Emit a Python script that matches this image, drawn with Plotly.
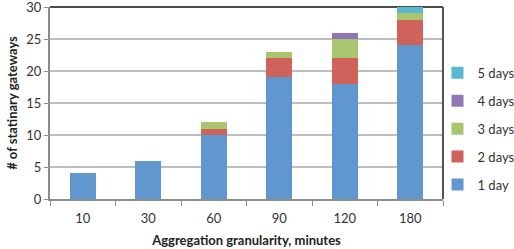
import plotly.graph_objects as go

categories = ["10", "30", "60", "90", "120", "180"]
series_names = ["1 day", "2 days", "3 days", "4 days", "5 days"]
day1 = [4, 6, 10, 19, 18, 24]
day2 = [0, 0, 1, 3, 4, 4]
day3 = [0, 0, 1, 1, 3, 1]
day4 = [0, 0, 0, 0, 1, 0]
day5 = [0, 0, 0, 0, 0, 1]
series_values = [day1, day2, day3, day4, day5]
colors = ["#6097CE", "#D0625C", "#A9C56E", "#8E77B3", "#59B9D1"]

FONT = "Lato, 'Open Sans', sans-serif"

fig = go.Figure()
for i, (name, vals, col) in enumerate(zip(series_names, series_values, colors)):
    fig.add_trace(go.Bar(
        x=categories, y=vals, name=name,
        marker=dict(color=col, line=dict(width=0)),
        legendgroup=name,
        legendrank=len(series_names) - i,
    ))

fig.update_layout(
    barmode="stack",
    bargap=0.6,
    width=514, height=249,
    margin=dict(l=50, r=71, t=7, b=50, autoexpand=False),
    paper_bgcolor="white", plot_bgcolor="white",
    font=dict(family=FONT, size=13, color="#333333"),
    showlegend=True,
    legend=dict(
        traceorder="grouped",
        x=0.986, xanchor="left", y=0.365, yanchor="middle",
        font=dict(size=13, color="#333333", family=FONT),
        tracegroupgap=8,
        itemwidth=30,
        bgcolor="rgba(0,0,0,0)",
    ),
    xaxis=dict(
        type="category",
        showline=True, linecolor="#8C8C8C", linewidth=2,
        ticks="outside", tickson="boundaries", ticklen=5, tickcolor="#8C8C8C",
        showgrid=False, automargin=False, ticklabelstandoff=6,
        tickfont=dict(size=13, color="#333333"),
        title=dict(text="<b>Aggregation granularity, minutes</b>", font=dict(size=13, color="#222222"), standoff=11),
    ),
    yaxis=dict(
        range=[0, 30], dtick=5,
        showline=True, linecolor="#8C8C8C", linewidth=2,
        ticks="outside", ticklen=4, tickcolor="#8C8C8C",
        showgrid=True, gridcolor="#BDBDBD", gridwidth=1.5,
        zeroline=False, automargin=False, ticklabeloverflow="allow",
        tickfont=dict(size=13, color="#333333"),
        title=dict(text="<b># of statinary gateways</b>", font=dict(size=13, color="#222222"), standoff=6),
    ),
    shapes=[
        dict(type="line", xref="paper", yref="paper", x0=0, x1=1, y0=1, y1=1,
             line=dict(color="#111111", width=1.5), layer="below"),
        dict(type="line", xref="paper", yref="paper", x0=1, x1=1, y0=0, y1=1,
             line=dict(color="#555555", width=2)),
    ],
)

fig.write_html("out.html", config={"displayModeBar": False},
               post_script="document.body.style.margin='0';document.body.style.overflow='hidden';")
